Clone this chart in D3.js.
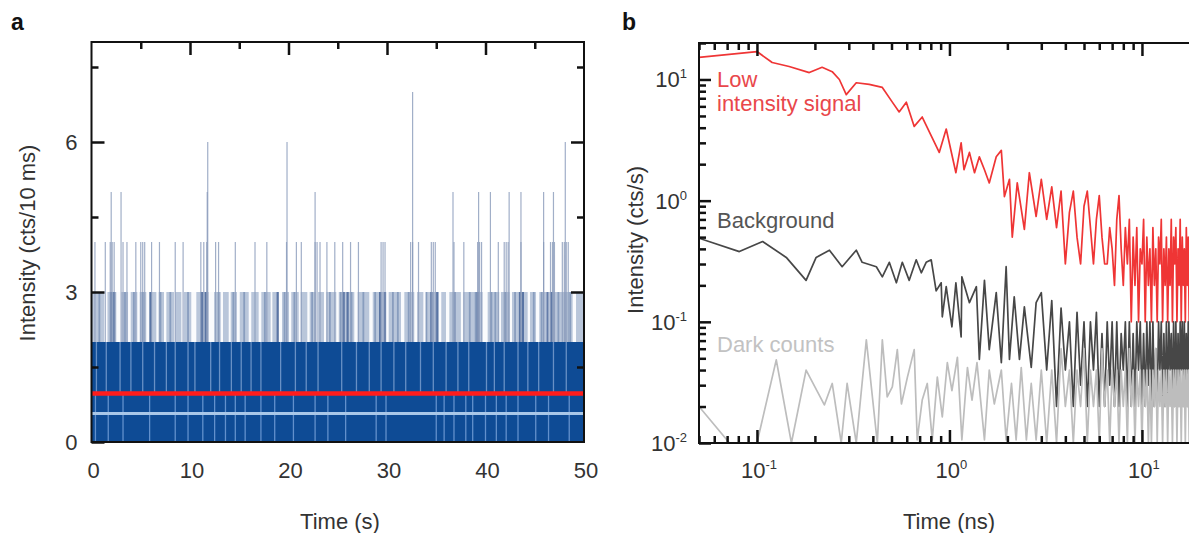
<!DOCTYPE html>
<html>
<head>
<meta charset="utf-8">
<script src="https://cdn.jsdelivr.net/npm/d3@7"></script>
<style>
	body { margin: 0; background: #fff; }
	svg text { font-family: "Liberation Sans", Arial, sans-serif; fill: #333; }
	.axis .domain { display: none; }
	.axis line { stroke: #111; stroke-width: 2.5; }
</style>
</head>
<body>
<div id="chart"></div>
<script>

/*
 * Panel a -- binned intensity trace (10 ms bins), values in counts
 */
const traceMajorY = [0, 3, 6];
const traceMinorY = [1.5, 4.5, 7.5];
const traceMajorX = [0, 10, 20, 30, 40, 50];
const traceMinorX = [5, 15, 25, 35, 45];

const meanSignal = 0.97;
const meanBackground = 0.57;
const denseLevel = 2;   // almost every bin reaches 2 counts
const commonLevel = 3;

// time (s) of bins reaching 4, 5, 6, 7 counts
const peaks4 = [0.35, 1.4, 1.9, 2.1, 2.3, 3.2, 3.6, 4.5, 5.0, 5.2, 5.4, 6.1, 6.9, 8.5, 9.3, 11.1, 11.4, 11.7,
	12.6, 12.9, 14.6, 16.6, 17.8, 19.8, 20.8, 21.3, 22.7, 22.9, 23.2, 23.9, 24.7, 25.5, 26.3, 27.1, 29.4, 29.6,
	29.8, 32.4, 32.6, 33.2, 34.5, 34.7, 34.9, 36.8, 37.8, 39.2, 39.4, 39.6, 41.3, 41.9, 42.1, 42.3, 43.6, 45.9,
	46.6, 46.8, 47.0, 47.8, 48.0, 48.2, 48.4];
const peaks5 = [2.0, 3.0, 11.75, 22.7, 36.7, 39.3, 40.5, 42.4, 43.6, 45.9, 46.9];
const peaks6 = [11.8, 19.85, 48.1];
const peaks7 = [32.6];

// time spans (s) where no bin reached 3 counts
const gaps3 = [[1.28, 1.62], [2.52, 3.03], [3.71, 3.98], [4.65, 4.89], [5.56, 5.84], [6.58, 6.82], [7.36, 7.6],
	[8.38, 8.51], [9.12, 9.39], [10.13, 10.64], [11.9, 12.44], [13.12, 13.35], [13.93, 14.13], [14.77, 15.05],
	[15.96, 16.22], [16.97, 17.24], [18.19, 18.36], [19.0, 19.34], [20.05, 20.28], [21.04, 21.24], [21.91, 22.15],
	[22.76, 23.0], [23.6, 23.84], [24.85, 25.1], [26.68, 27.02], [28.2, 28.55], [29.9, 30.17], [31.42, 31.76],
	[32.77, 33.05], [33.69, 33.96], [35.25, 35.51], [35.99, 36.33], [37.5, 37.75], [39.71, 40.22], [41.4, 41.57],
	[42.45, 42.69], [44.28, 44.52], [45.13, 45.46], [46.2, 46.45], [48.85, 49.19]];

// time (s) of stretches with several bins at 3 counts
const dark3 = [2.0, 2.3, 6.0, 11.2, 11.6, 18.9, 25.6, 26.0, 29.3, 29.8, 34.5, 35.1, 39.2, 43.5, 43.8, 46.3, 46.7];
const mid3 = [0.8, 3.4, 4.3, 5.2, 7.0, 8.0, 9.8, 12.9, 14.4, 15.5, 17.6, 19.6, 20.6, 22.4, 24.2, 25.3, 26.4,
	27.6, 28.8, 30.6, 31.1, 32.2, 34.0, 36.9, 38.4, 39.0, 40.6, 41.0, 42.0, 43.0, 44.9, 45.7, 47.4, 48.6];

// time (s) of short dips below 2 counts and below 1 count
const dipsMid = [0.5, 1.5, 2.9, 4.0, 5.2, 6.4, 7.6, 8.5, 9.8, 10.5, 12.1, 13.0, 14.2, 15.2, 16.2, 17.2, 19.2,
	20.7, 21.8, 23.0, 25.4, 26.9, 28.2, 29.4, 30.7, 31.9, 33.4, 34.7, 36.0, 37.2, 38.3, 40.1, 40.9, 41.9, 43.3,
	44.3, 45.4, 46.9, 48.2];
const dipsLow = [0.4, 1.7, 3.2, 5.9, 8.5, 9.8, 11.3, 12.5, 13.6, 14.6, 15.6, 17.2, 18.6, 20.5, 22.7, 24.0,
	25.8, 28.9, 29.9, 35.0, 35.8, 36.8, 38.0, 38.7, 40.0, 41.1, 42.1, 43.3, 45.1, 46.4, 48.5];


/*
 * Panel b -- decay histograms, [time (ns), intensity (cts/s)]
 */
const decayMajorY = [0.01, 0.1, 1, 10];
const decayMajorX = [0.1, 1, 10];

const signalHead = [[0.05, 15.2], [0.1, 17.0], [0.12, 13.8], [0.147, 12.8], [0.187, 11.4], [0.218, 12.6],
	[0.246, 11.6], [0.268, 10.0], [0.291, 7.5], [0.328, 9.4], [0.383, 9.1], [0.448, 8.6], [0.505, 6.5],
	[0.548, 5.4], [0.597, 6.5], [0.656, 4.1], [0.722, 4.9], [0.814, 3.3], [0.885, 2.5], [0.962, 3.9],
	[1.08, 1.7], [1.15, 3.0], [1.19, 1.8], [1.27, 2.5], [1.35, 1.7], [1.43, 2.3], [1.52, 1.8], [1.61, 1.4],
	[1.75, 2.3], [1.86, 2.6], [1.93, 1.08], [2.05, 1.5], [2.12, 0.5], [2.25, 1.4], [2.45, 0.58], [2.6, 1.7],
	[2.82, 0.74], [3.0, 1.5]];

const backgroundHead = [[0.05, 0.49], [0.081, 0.38], [0.107, 0.46], [0.142, 0.34], [0.18, 0.22], [0.203, 0.34],
	[0.238, 0.39], [0.277, 0.285], [0.328, 0.39], [0.352, 0.31], [0.417, 0.285], [0.448, 0.235], [0.487, 0.31],
	[0.53, 0.21], [0.569, 0.31], [0.618, 0.22], [0.672, 0.325], [0.714, 0.254], [0.757, 0.31], [0.804, 0.325],
	[0.853, 0.18], [0.906, 0.21], [0.918, 0.11], [0.962, 0.195], [1.03, 0.091], [1.08, 0.21], [1.15, 0.075],
	[1.16, 0.235], [1.27, 0.144], [1.38, 0.195], [1.43, 0.049], [1.52, 0.22], [1.61, 0.059], [1.75, 0.174],
	[1.86, 0.046], [1.97, 0.285], [2.05, 0.049], [2.17, 0.161], [2.31, 0.049], [2.45, 0.133], [2.66, 0.042],
	[2.82, 0.144], [3.0, 0.174]];

const darkHead = [[0.05, 0.02], [0.072, 0.01], [0.1, 0.01], [0.126, 0.0485], [0.151, 0.01], [0.18, 0.04],
	[0.224, 0.0206], [0.246, 0.031], [0.274, 0.01], [0.294, 0.031], [0.328, 0.01], [0.37, 0.071], [0.422, 0.01],
	[0.448, 0.071], [0.475, 0.024], [0.505, 0.029], [0.536, 0.059], [0.563, 0.021], [0.605, 0.035], [0.656, 0.059],
	[0.68, 0.0106], [0.722, 0.0226], [0.767, 0.031], [0.814, 0.0106], [0.865, 0.035], [0.918, 0.0164],
	[0.975, 0.046], [1.03, 0.027], [1.1, 0.051], [1.16, 0.0106], [1.24, 0.042], [1.31, 0.0226], [1.39, 0.046],
	[1.52, 0.0106], [1.61, 0.04], [1.71, 0.021], [1.86, 0.04], [1.97, 0.0106], [2.1, 0.031], [2.22, 0.0106],
	[2.36, 0.042], [2.51, 0.0106], [2.66, 0.031], [2.82, 0.0106], [3.0, 0.04]];

// noisy tails, one value per 0.2 ns channel from 3.2 ns
const tailStart = 3.2;
const tailStep = 0.2;
const signalTail = [0.7, 1.3, 0.6, 1.2, 0.3, 0.8, 1.2, 0.5, 0.3, 0.9, 1.2, 0.6, 0.3, 0.7, 1.1, 0.5, 0.3, 0.3,
	0.6, 0.4, 0.2, 0.7, 1.1, 0.4, 0.2, 0.6, 0.3, 0.7, 0.1, 0.5,
	0.2, 0.6, 0.1, 0.4, 0.3, 0.7, 0.1, 0.5, 0.2, 0.4,
	0.1, 0.6, 0.2, 0.4, 0.1, 0.5, 0.3, 0.7, 0.1, 0.4,
	0.2, 0.5, 0.1, 0.4, 0.2, 0.7, 0.1, 0.5, 0.3, 0.6,
	0.1, 0.4, 0.2, 0.7, 0.1, 0.5, 0.2, 0.4, 0.1, 0.6,
	0.2, 0.5, 0.1];
const backgroundTail = [0.04, 0.15, 0.02, 0.13, 0.04, 0.1, 0.02, 0.12, 0.03, 0.1,
	0.02, 0.1, 0.04, 0.12, 0.02, 0.08, 0.02, 0.1, 0.03, 0.1,
	0.02, 0.1, 0.02, 0.08, 0.04, 0.1, 0.02, 0.1, 0.02, 0.08,
	0.02, 0.1, 0.04, 0.1, 0.02, 0.08, 0.02, 0.1, 0.03, 0.1,
	0.02, 0.1, 0.02, 0.06, 0.02, 0.1, 0.04, 0.1, 0.02, 0.08,
	0.02, 0.1, 0.02, 0.1, 0.04, 0.08, 0.02, 0.1, 0.02, 0.1,
	0.02, 0.08, 0.02, 0.1, 0.04, 0.1, 0.02, 0.1, 0.02, 0.08,
	0.02, 0.1, 0.04];
const darkTail = [0.01, 0.04, 0.01, 0.06, 0.02, 0.04, 0.01, 0.04, 0.02, 0.06,
	0.01, 0.04, 0.02, 0.04, 0.01, 0.06, 0.02, 0.04, 0.01, 0.04,
	0.02, 0.04, 0.01, 0.04, 0.02, 0.04, 0.01, 0.06, 0.02, 0.04,
	0.01, 0.04, 0.02, 0.04, 0.01, 0.04, 0.02, 0.04, 0.01, 0.04,
	0.01, 0.04, 0.02, 0.06, 0.01, 0.04, 0.02, 0.04, 0.01, 0.04,
	0.02, 0.04, 0.01, 0.04, 0.02, 0.04, 0.01, 0.04, 0.02, 0.04,
	0.01, 0.04, 0.02, 0.04, 0.01, 0.04, 0.02, 0.04, 0.01, 0.04,
	0.02, 0.04, 0.01];


const svg = d3.select("#chart").append("svg")
	.attr("width", 1189)
	.attr("height", 533);


/*
 * Panel a
 */
function drawTrace() {
	let x = d3.scaleLinear().domain([0, 50]).range([91.5, 584]);
	let y = d3.scaleLinear().domain([0, 8]).range([442, 42]);

	let g = svg.append("g");

	g.append("clipPath").attr("id", "clipA")
		.append("rect")
		.attr("x", x(0)).attr("y", y(8))
		.attr("width", x(50) - x(0)).attr("height", y(0) - y(8));

	let data = g.append("g").attr("clip-path", "url(#clipA)");

	// band of bins reaching 3 counts
	data.append("rect")
		.attr("x", x(0)).attr("width", x(50) - x(0))
		.attr("y", y(commonLevel)).attr("height", y(denseLevel) - y(commonLevel))
		.attr("fill", "#b9c6da");

	data.selectAll(".gap3").data(gaps3).enter().append("rect")
		.attr("x", d => x(d[0])).attr("width", d => x(d[1]) - x(d[0]))
		.attr("y", y(commonLevel)).attr("height", y(denseLevel) - y(commonLevel))
		.attr("fill", "#fafbfd");

	data.selectAll(".mid3").data(mid3).enter().append("line")
		.attr("x1", d => x(d)).attr("x2", d => x(d))
		.attr("y1", y(denseLevel)).attr("y2", y(commonLevel))
		.attr("stroke", "#7d93b8").attr("stroke-width", 1.8).attr("opacity", 0.8);

	data.selectAll(".dark3").data(dark3).enter().append("line")
		.attr("x1", d => x(d)).attr("x2", d => x(d))
		.attr("y1", y(denseLevel)).attr("y2", y(commonLevel))
		.attr("stroke", "#4a679b").attr("stroke-width", 2.2).attr("opacity", 0.85);

	// taller bins
	let peaks = [].concat(
		peaks4.map(t => ({t: t, c: 4})),
		peaks5.map(t => ({t: t, c: 5})),
		peaks6.map(t => ({t: t, c: 6})),
		peaks7.map(t => ({t: t, c: 7})));

	data.selectAll(".peak").data(peaks).enter().append("line")
		.attr("x1", d => x(d.t)).attr("x2", d => x(d.t))
		.attr("y1", y(denseLevel)).attr("y2", d => y(d.c))
		.attr("stroke", "#8a9bbb").attr("stroke-width", 1.2).attr("opacity", 0.8);

	// dense part
	data.append("rect")
		.attr("x", x(0)).attr("width", x(50) - x(0))
		.attr("y", y(denseLevel)).attr("height", y(0) - y(denseLevel))
		.attr("fill", "#0e4b95");

	data.selectAll(".dipMid").data(dipsMid).enter().append("line")
		.attr("x1", d => x(d)).attr("x2", d => x(d))
		.attr("y1", y(1)).attr("y2", y(denseLevel))
		.attr("stroke", "#86a8d6").attr("stroke-width", 1.3).attr("opacity", 0.75);

	data.selectAll(".dipLow").data(dipsLow).enter().append("line")
		.attr("x1", d => x(d)).attr("x2", d => x(d))
		.attr("y1", y(0)).attr("y2", y(1))
		.attr("stroke", "#78a2da").attr("stroke-width", 1.3).attr("opacity", 0.8);

	// mean levels
	data.append("line")
		.attr("x1", x(0)).attr("x2", x(50))
		.attr("y1", y(meanBackground)).attr("y2", y(meanBackground))
		.attr("stroke", "#a9c7e8").attr("stroke-width", 3);

	data.append("line")
		.attr("x1", x(0)).attr("x2", x(50))
		.attr("y1", y(meanSignal)).attr("y2", y(meanSignal))
		.attr("stroke", "#ff1c1c").attr("stroke-width", 4.5);

	// ticks (inward)
	g.append("g").attr("class", "axis").attr("transform", "translate(" + x(0) + ",0)")
		.call(d3.axisLeft(y).tickValues(traceMajorY).tickSize(-13).tickFormat(""));
	g.append("g").attr("class", "axis").attr("transform", "translate(" + x(0) + ",0)")
		.call(d3.axisLeft(y).tickValues(traceMinorY).tickSize(-7).tickFormat(""));
	g.append("g").attr("class", "axis").attr("transform", "translate(" + x(50) + ",0)")
		.call(d3.axisRight(y).tickValues(traceMajorY.slice(1)).tickSize(-13).tickFormat(""));
	g.append("g").attr("class", "axis").attr("transform", "translate(" + x(50) + ",0)")
		.call(d3.axisRight(y).tickValues(traceMinorY).tickSize(-7).tickFormat(""));
	g.append("g").attr("class", "axis").attr("transform", "translate(0," + y(8) + ")")
		.call(d3.axisTop(x).tickValues(traceMajorX.slice(1, -1)).tickSize(-13).tickFormat(""));
	g.append("g").attr("class", "axis").attr("transform", "translate(0," + y(8) + ")")
		.call(d3.axisTop(x).tickValues(traceMinorX).tickSize(-7).tickFormat(""));

	// frame
	g.append("rect")
		.attr("x", x(0)).attr("y", y(8))
		.attr("width", x(50) - x(0)).attr("height", y(0) - y(8))
		.attr("fill", "none").attr("stroke", "#111").attr("stroke-width", 2);

	// labels
	g.selectAll(".ylab").data(traceMajorY).enter().append("text")
		.attr("x", x(0) - 14).attr("y", d => y(d))
		.attr("dy", "0.36em").attr("text-anchor", "end")
		.attr("font-size", 22).text(d => d);

	g.selectAll(".xlab").data(traceMajorX).enter().append("text")
		.attr("x", d => x(d) + 2).attr("y", 478)
		.attr("text-anchor", "middle")
		.attr("font-size", 22).text(d => d);

	g.append("text")
		.attr("x", 340).attr("y", 529)
		.attr("text-anchor", "middle").attr("font-size", 22)
		.text("Time (s)");

	g.append("text")
		.attr("transform", "translate(35,243) rotate(-90)")
		.attr("text-anchor", "middle").attr("font-size", 22)
		.text("Intensity (cts/10 ms)");

	g.append("text")
		.attr("x", 11).attr("y", 30)
		.attr("font-size", 23).attr("font-weight", "bold").style("fill", "#111")
		.text("a");
}


/*
 * Panel b
 */
function powerLabel(sel, v) {
	let e = Math.round(Math.log10(v));
	sel.append("tspan").text("10");
	sel.append("tspan").attr("dy", -9).attr("font-size", 13).text(e);
}

function drawDecay() {
	let x = d3.scaleLog().domain([0.05, 20]).range([699, 1199.9]);
	let y = d3.scaleLog().domain([0.01, 20]).range([443, 43]);

	let g = svg.append("g");

	g.append("clipPath").attr("id", "clipB")
		.append("rect")
		.attr("x", x(0.05)).attr("y", y(20))
		.attr("width", x(20) - x(0.05)).attr("height", y(0.01) - y(20));

	let tail = vals => vals.map((v, i) => [tailStart + i * tailStep, v]);

	let series = [
		{data: signalHead.concat(tail(signalTail)), color: "#ef3535"},
		{data: backgroundHead.concat(tail(backgroundTail)), color: "#474747"},
		{data: darkHead.concat(tail(darkTail)), color: "#bdbdbd"}
	];

	let line = d3.line()
		.x(d => x(d[0]))
		.y(d => y(d[1]));

	g.append("g").attr("clip-path", "url(#clipB)")
		.selectAll("path").data(series).enter().append("path")
		.attr("d", d => line(d.data))
		.attr("fill", "none")
		.attr("stroke", d => d.color)
		.attr("stroke-width", 1.7)
		.attr("stroke-linejoin", "round");

	// ticks (inward)
	let minorY = y.ticks().filter(v => decayMajorY.indexOf(v) < 0);
	let minorX = x.ticks().filter(v => decayMajorX.indexOf(v) < 0);

	g.append("g").attr("class", "axis").attr("transform", "translate(" + x(0.05) + ",0)")
		.call(d3.axisLeft(y).tickValues(decayMajorY).tickSize(-12).tickFormat(""));
	g.append("g").attr("class", "axis").attr("transform", "translate(" + x(0.05) + ",0)")
		.call(d3.axisLeft(y).tickValues(minorY).tickSize(-7).tickFormat(""));
	g.append("g").attr("class", "axis").attr("transform", "translate(0," + y(20) + ")")
		.call(d3.axisTop(x).tickValues(decayMajorX).tickSize(-13).tickFormat(""));
	g.append("g").attr("class", "axis").attr("transform", "translate(0," + y(20) + ")")
		.call(d3.axisTop(x).tickValues(minorX).tickSize(-7).tickFormat(""));
	g.append("g").attr("class", "axis").attr("transform", "translate(0," + y(0.01) + ")")
		.call(d3.axisBottom(x).tickValues(decayMajorX).tickSize(-13).tickFormat(""));
	g.append("g").attr("class", "axis").attr("transform", "translate(0," + y(0.01) + ")")
		.call(d3.axisBottom(x).tickValues(minorX).tickSize(-7).tickFormat(""));

	// frame
	g.append("rect")
		.attr("x", x(0.05)).attr("y", y(20))
		.attr("width", x(20) - x(0.05)).attr("height", y(0.01) - y(20))
		.attr("fill", "none").attr("stroke", "#111").attr("stroke-width", 2);

	// tick labels
	g.selectAll(".ylab").data(decayMajorY).enter().append("text")
		.attr("x", x(0.05) - 12).attr("y", d => y(d) + 8)
		.attr("text-anchor", "end").attr("font-size", 22)
		.each(function(d) { powerLabel(d3.select(this), d); });

	g.selectAll(".xlab").data(decayMajorX).enter().append("text")
		.attr("x", d => x(d) + 2).attr("y", 478)
		.attr("text-anchor", "middle").attr("font-size", 22)
		.each(function(d) { powerLabel(d3.select(this), d); });

	g.append("text")
		.attr("x", 949).attr("y", 529)
		.attr("text-anchor", "middle").attr("font-size", 22)
		.text("Time (ns)");

	g.append("text")
		.attr("transform", "translate(643,240) rotate(-90)")
		.attr("text-anchor", "middle").attr("font-size", 22)
		.text("Intensity (cts/s)");

	// series labels
	g.append("text").attr("x", 717).attr("y", 87).attr("font-size", 22)
		.style("fill", "#e9474b").text("Low");
	g.append("text").attr("x", 717).attr("y", 111).attr("font-size", 22)
		.style("fill", "#e9474b").text("intensity signal");
	g.append("text").attr("x", 717).attr("y", 228).attr("font-size", 22)
		.style("fill", "#555").text("Background");
	g.append("text").attr("x", 717).attr("y", 352).attr("font-size", 22)
		.style("fill", "#c2c2c2").text("Dark counts");

	g.append("text")
		.attr("x", 622).attr("y", 30)
		.attr("font-size", 23).attr("font-weight", "bold").style("fill", "#111")
		.text("b");
}

drawTrace();
drawDecay();

</script>
</body>
</html>
